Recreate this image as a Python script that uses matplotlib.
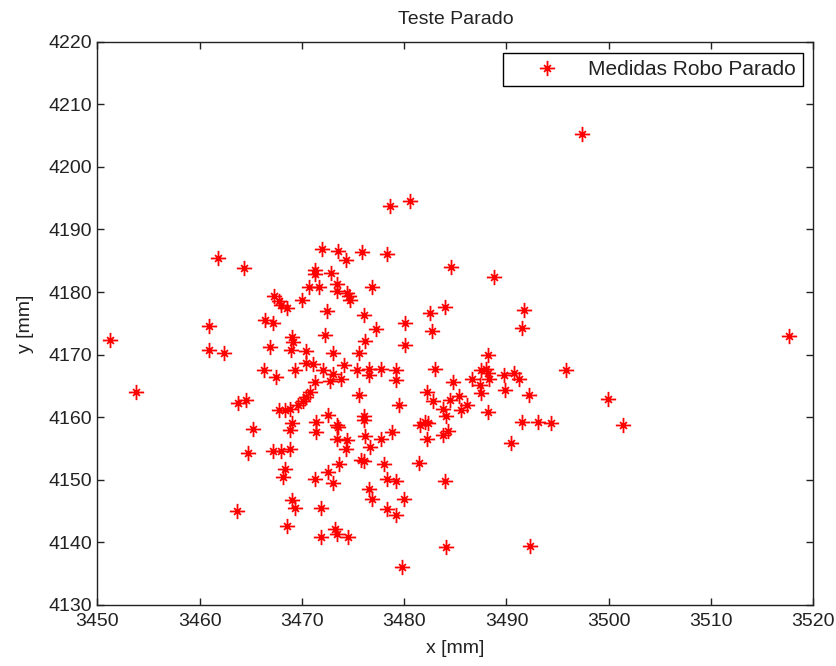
import matplotlib
matplotlib.use("Agg")
import matplotlib.pyplot as plt
from matplotlib.path import Path
import numpy as np

plt.rcParams["font.family"] = ["Liberation Sans", "DejaVu Sans"]

# measured positions of the stationary robot [mm]
x_mm = [
    3451.2, 3453.8, 3497.4, 3517.6, 3480.6, 3478.6, 3484.1, 3492.3, 3499.9, 3501.4, 3495.8,
    3461.8, 3464.3, 3460.9, 3460.9, 3462.4, 3463.8, 3464.5,
    3472.0, 3473.5, 3474.3, 3475.9, 3478.3,
    3471.3, 3471.3, 3472.8,
    3470.7, 3471.7, 3473.4, 3473.4,
    3474.4, 3474.6, 3474.7, 3476.9,
    3467.3, 3467.8, 3468.0, 3468.5,
    3470.0, 3472.5, 3476.1,
    3466.4, 3467.2, 3477.2, 3480.1, 3482.5, 3482.7,
    3472.3, 3469.0, 3469.1, 3468.9, 3466.9,
    3476.2, 3480.1, 3470.4, 3473.0, 3475.6,
    3466.3, 3467.5, 3469.3, 3470.4, 3471.1, 3472.1,
    3473.0, 3472.7, 3473.8, 3474.1, 3475.4,
    3476.6, 3476.6, 3477.7, 3479.2, 3479.2, 3483.0,
    3471.3, 3470.8, 3470.4, 3475.6, 3479.5, 3482.2, 3482.8,
    3467.8, 3468.3, 3468.8, 3469.6, 3470.1,
    3472.6, 3476.1,
    3469.0, 3468.8, 3471.4, 3471.4, 3473.4, 3473.5,
    3473.4, 3474.4, 3474.3, 3476.1, 3476.2, 3476.7, 3477.7, 3478.8,
    3481.5, 3482.0, 3482.3, 3482.2,
    3467.2, 3468.0, 3468.8, 3468.3, 3468.2, 3471.3,
    3472.6, 3473.0, 3473.6, 3475.8, 3476.1, 3478.0, 3481.4,
    3478.3, 3479.2, 3476.6, 3476.9, 3480.0, 3478.3, 3479.2,
    3469.0, 3469.3, 3471.9, 3468.5, 3473.2, 3473.4, 3471.9, 3474.5, 3479.8,
    3484.6, 3488.8, 3484.0, 3491.7, 3491.5, 3488.2,
    3487.5, 3488.0, 3488.2,
    3484.8, 3486.6, 3487.4, 3488.3, 3489.8, 3490.7, 3491.2,
    3489.9, 3487.5, 3492.2,
    3483.8, 3484.5, 3485.4, 3486.1, 3485.6, 3484.1, 3488.2,
    3491.5, 3493.1, 3494.4, 3484.3, 3483.8, 3490.4, 3484.0,
    3465.2, 3464.7, 3463.7,
]
y_mm = [
    4172.4, 4164.0, 4205.3, 4173.0, 4194.6, 4193.8, 4139.3, 4139.5, 4162.9, 4158.8, 4167.6,
    4185.5, 4183.9, 4174.5, 4170.8, 4170.3, 4162.2, 4162.7,
    4186.9, 4186.6, 4185.1, 4186.4, 4186.1,
    4183.5, 4182.9, 4183.0,
    4180.8, 4180.8, 4181.3, 4180.2,
    4179.9, 4179.4, 4178.8, 4180.8,
    4179.3, 4178.6, 4178.0, 4177.5,
    4178.8, 4176.9, 4176.4,
    4175.6, 4175.1, 4174.1, 4175.1, 4176.6, 4173.8,
    4173.2, 4172.8, 4172.0, 4170.7, 4171.2,
    4172.1, 4171.6, 4170.6, 4170.3, 4170.3,
    4167.5, 4166.4, 4167.6, 4168.6, 4168.5, 4167.6,
    4166.9, 4165.8, 4166.1, 4168.3, 4167.5,
    4167.7, 4166.8, 4167.7, 4167.5, 4166.0, 4167.7,
    4165.6, 4164.0, 4163.3, 4163.5, 4162.0, 4164.1, 4162.6,
    4161.2, 4161.2, 4161.3, 4161.9, 4162.6,
    4160.4, 4160.2,
    4159.0, 4157.9, 4159.2, 4157.7, 4158.8, 4158.5,
    4156.6, 4156.4, 4155.0, 4159.5, 4157.0, 4155.2, 4156.6, 4157.7,
    4158.8, 4159.2, 4159.0, 4156.6,
    4154.6, 4154.6, 4155.0, 4151.7, 4150.4, 4150.1,
    4151.2, 4149.5, 4152.5, 4153.2, 4153.0, 4152.6, 4152.7,
    4150.1, 4149.8, 4148.5, 4147.0, 4147.0, 4145.4, 4144.3,
    4146.8, 4145.5, 4145.5, 4142.7, 4142.2, 4141.3, 4140.9, 4140.9, 4136.0,
    4184.0, 4182.4, 4177.6, 4177.2, 4174.3, 4169.9,
    4167.6, 4167.7, 4167.1,
    4165.6, 4166.1, 4165.1, 4166.1, 4166.7, 4167.0, 4166.1,
    4164.4, 4163.8, 4163.5,
    4161.3, 4162.7, 4163.4, 4162.0, 4161.2, 4160.2, 4160.8,
    4159.2, 4159.2, 4159.0, 4157.8, 4157.1, 4155.9, 4149.8,
    4158.1, 4154.3, 4145.0,
]

x_ticks = [3450, 3460, 3470, 3480, 3490, 3500, 3510, 3520]
y_ticks = [4130, 4140, 4150, 4160, 4170, 4180, 4190, 4200, 4210, 4220]

# matlab style asterisk: long plus arms, short diagonals
d = 0.45
verts = [(-1, 0), (1, 0), (0, -1), (0, 1),
         (-d, -d), (d, d), (-d, d), (d, -d)]
codes = [Path.MOVETO, Path.LINETO] * 4
asterisk = Path(verts, codes)

fig = plt.figure(figsize=(8.36, 6.66), dpi=100)
ax = fig.add_axes([0.1164, 0.0916, 0.8565, 0.8458])

ax.plot(x_mm, y_mm, linestyle="none", marker=asterisk, markersize=11,
        markeredgewidth=1.3, color="red", label="Medidas Robo Parado")

ax.set_xlim(3450, 3520)
ax.set_ylim(4130, 4220)
ax.set_xticks(x_ticks)
ax.set_yticks(y_ticks)
ax.tick_params(direction="in", length=5, width=1, top=True, right=True,
               labelsize=14, labelcolor="#222222", colors="#222222")
ax.tick_params(axis="x", pad=6)
ax.tick_params(axis="y", pad=4)
for s in ax.spines.values():
    s.set_linewidth(1)
    s.set_color("#222222")

ax.set_title("Teste Parado", fontsize=14, pad=13, color="#222222")
ax.set_xlabel("x [mm]", fontsize=14, labelpad=7, color="#222222")
ax.set_ylabel("y [mm]", fontsize=14, labelpad=10, color="#222222")

leg = ax.legend(loc="upper right", bbox_to_anchor=(0.986, 0.9805),
                borderaxespad=0, fancybox=False, framealpha=1,
                edgecolor="black", fontsize=15, handlelength=3.5,
                handletextpad=0.25, borderpad=0.35)
leg.get_frame().set_linewidth(1)
for t in leg.get_texts():
    t.set_color("#222222")

fig.savefig("out.png", dpi=100)
plt.close()
